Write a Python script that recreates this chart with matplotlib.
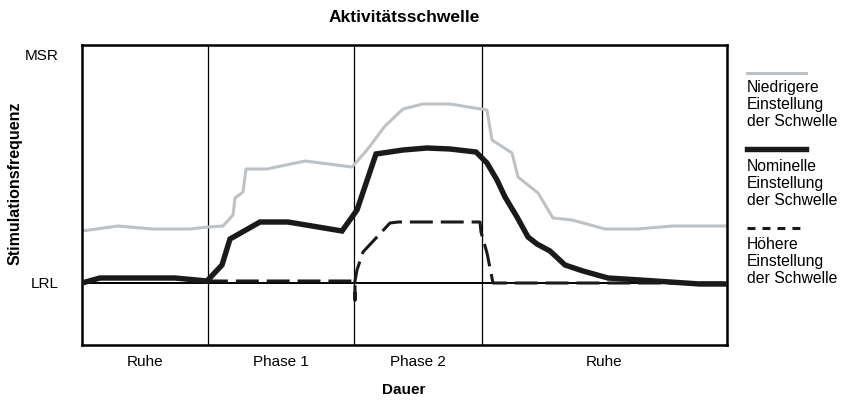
import matplotlib
matplotlib.use("Agg")
import matplotlib.pyplot as plt
from matplotlib.lines import Line2D

plt.rcParams['font.family'] = ['Liberation Sans', 'DejaVu Sans']

# Time axis (arbitrary units) and frequency axis (arbitrary units)
phase_bounds = [126, 272, 400]
phase_labels = ["Ruhe", "Phase 1", "Phase 2", "Ruhe"]
lrl = 62
msr = 290

low_t = [0, 36, 71, 108, 126, 141, 151, 153, 161, 164, 185, 223, 270, 285, 303, 321, 341, 368, 405, 410, 430, 436, 456, 471, 490, 523, 555, 591, 645]
low_f = [114, 119, 116, 116, 118, 119, 130, 147, 153, 176, 176, 184, 178, 195, 219, 236, 241, 241, 235, 205, 192, 168, 152, 127, 125, 116, 116, 119, 119]

nom_t = [0, 18, 93, 125, 140, 148, 178, 206, 260, 275, 294, 321, 345, 368, 394, 405, 415, 423, 435, 446, 455, 468, 483, 501, 526, 558, 618, 645]
nom_f = [62, 67, 67, 64, 80, 106, 123, 123, 114, 135, 191, 195, 197, 196, 193, 182, 165, 148, 128, 108, 101, 94, 80, 74, 67, 65, 61, 61]

high_t = [123, 273, 273, 273, 275, 281, 308, 316, 398, 399, 405, 411, 528, 645]
high_f = [64, 64, 45, 64, 75, 93, 122, 123, 123, 113, 92, 62, 62, 62]

fig = plt.figure(figsize=(8.42, 4.01), dpi=100)
ax = fig.add_axes([82/842, 1 - 345/401, 645/842, 300/401])
ax.set_xlim(0, 645)
ax.set_ylim(0, 300)

for b in phase_bounds:
    ax.axvline(b, color='black', lw=0.9, zorder=1)
ax.axhline(lrl, color='black', lw=1.4, zorder=1)

gray = '#bdc2c6'
dark = '#1a1a1a'
ax.plot(low_t, low_f, color=gray, lw=2.2, zorder=2)
ax.plot(high_t, high_f, color=dark, lw=2.2, dashes=(7.5, 2.6), zorder=3)
ax.plot(nom_t, nom_f, color=dark, lw=3.9, solid_joinstyle='miter', zorder=4)

for s in ax.spines.values():
    s.set_linewidth(1.8)

edges = [0] + phase_bounds + [645]
centers = [(edges[i] + edges[i + 1]) / 2 for i in range(4)]
ax.set_xticks(centers)
ax.set_xticklabels(phase_labels, fontsize=11)
ax.tick_params(axis='x', length=0, pad=7)
ax.set_yticks([lrl, msr])
ax.set_yticklabels(["LRL", "MSR"], fontsize=11)
ax.tick_params(axis='y', length=0, pad=17)

fig.text(404/842, 1 - 390/401, "Dauer", fontsize=11, fontweight='bold', ha='center', va='center')
fig.text(15/842, 1 - 183/401, "Stimulationsfrequenz", fontsize=11.5, fontweight='bold',
         ha='center', va='center', rotation=90)
fig.text(404/842, 1 - 18/401, "Aktivitätsschwelle", fontsize=12.5, fontweight='bold',
         ha='center', va='center')

# Legend drawn at right
leg_items = [
    ("Niedrigere\nEinstellung\nder Schwelle", dict(color=gray, lw=2.2), 73, 80),
    ("Nominelle\nEinstellung\nder Schwelle", dict(color=dark, lw=3.9), 149, 159),
    ("Höhere\nEinstellung\nder Schwelle", dict(color=dark, lw=2.2, dashes=(2.6, 2.3)), 228, 237),
]
for text, style, ly, ty in leg_items:
    fig.add_artist(Line2D([747/842, 806/842], [1 - ly/401, 1 - ly/401], **style))
    fig.text(747/842, 1 - ty/401, text, fontsize=11.3, va='top', ha='left', linespacing=1.17)

fig.savefig("out.png", dpi=100)
